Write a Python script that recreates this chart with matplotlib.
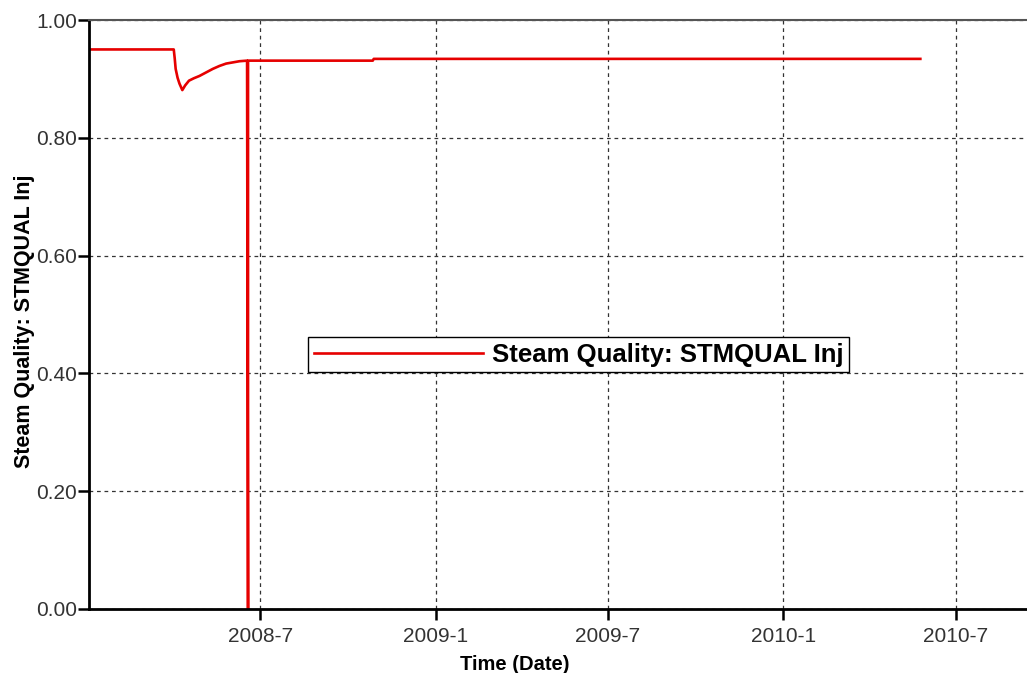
import matplotlib
matplotlib.use('Agg')
import matplotlib.pyplot as plt
import pandas as pd

plt.rcParams['font.family'] = ['Liberation Sans', 'DejaVu Sans']

# steam quality at injector
dates = pd.to_datetime([
    '2008-01-01', '2008-04-01', '2008-04-02', '2008-04-03', '2008-04-05',
    '2008-04-07', '2008-04-10', '2008-04-13', '2008-04-17', '2008-04-22',
    '2008-04-28', '2008-05-05', '2008-05-12', '2008-05-19', '2008-05-26',
    '2008-06-02', '2008-06-09', '2008-06-17', '2008-06-18', '2008-06-18',
    '2008-06-19', '2008-10-27', '2008-10-28', '2010-05-25',
])
quality = [
    0.950, 0.950, 0.935, 0.917, 0.902,
    0.892, 0.881, 0.889, 0.897, 0.901,
    0.905, 0.911, 0.917, 0.922, 0.926,
    0.928, 0.930, 0.931, 0.0, 0.931,
    0.931, 0.931, 0.934, 0.934,
]
series_name = 'Steam Quality: STMQUAL Inj'
x_ticks = pd.to_datetime(['2008-07-01', '2009-01-01', '2009-07-01', '2010-01-01', '2010-07-01'])
y_ticks = [0.0, 0.2, 0.4, 0.6, 0.8, 1.0]

fig = plt.figure(figsize=(10.27, 6.73), dpi=100)
ax = fig.add_axes([89 / 1027, 64 / 673, 1 - 89 / 1027, 589 / 673])

ax.plot(dates, quality, color='#e60000', lw=1.9, label=series_name)

ax.set_xlim(pd.Timestamp('2008-01-03'), pd.Timestamp('2010-09-14'))
ax.set_ylim(0, 1.0)
ax.set_xticks(x_ticks)
ax.set_xticklabels([f'{d.year}-{d.month}' for d in x_ticks])
ax.set_yticks(y_ticks)
ax.set_yticklabels([f'{v:.2f}' for v in y_ticks])

ax.grid(True, ls=(0, (3, 3)), color='#333333', lw=0.9)
ax.tick_params(axis='both', direction='out', length=8, width=1.8, color='black',
               labelsize=15, labelcolor='#333333')
ax.tick_params(axis='y', pad=0.5)
ax.tick_params(axis='x', pad=5)

for side in ['left', 'bottom']:
    ax.spines[side].set_linewidth(2)
    ax.spines[side].set_color('black')
ax.spines['top'].set_color('#555555')
ax.spines['top'].set_linewidth(1.5)
ax.spines['right'].set_visible(False)

ax.set_ylabel(series_name, fontsize=15.5, fontweight='bold')
ax.set_xlabel('Time (Date)', fontsize=14.5, fontweight='bold')
ax.xaxis.set_label_coords((515 - 89) / 938, -0.078)
ax.yaxis.set_label_coords(-0.058, 0.489)

leg = ax.legend(loc='center', bbox_to_anchor=(0.522, 0.432), fancybox=False,
                framealpha=1, edgecolor='black', handlelength=6.6,
                prop={'size': 18.5, 'weight': 'bold'}, borderpad=0.2,
                handletextpad=0.35)
leg.get_frame().set_linewidth(1.0)

fig.savefig('out.png', dpi=100)
